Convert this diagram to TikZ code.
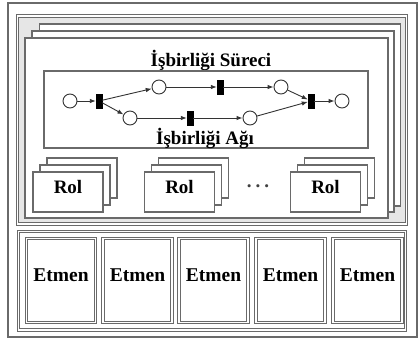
\documentclass[tikz,border=0pt]{standalone}
\usepackage{fontspec}
\setmainfont{Liberation Serif}
\usetikzlibrary{arrows.meta}
\definecolor{lc}{HTML}{6A6A6A}
\definecolor{bgc}{HTML}{E6E6E6}
\definecolor{pc}{HTML}{333333}
\tikzset{
  frame/.style={draw=lc, line width=1.1pt, fill=white, inner sep=0pt, outer sep=0pt},
  dframe/.style={draw=lc, line width=1pt, double=white, double distance=1.6pt, inner sep=0pt, outer sep=0pt},
  page/.style={draw=lc, line width=1.1pt, fill=white, inner sep=0pt, outer sep=0pt},
  place/.style={circle, draw=pc, line width=0.9pt, fill=white, minimum size=14pt, inner sep=0pt},
  trans/.style={rectangle, fill=black, draw=black, minimum width=6pt, minimum height=14pt, inner sep=0pt},
  arc/.style={draw=pc, line width=0.9pt, -{Latex[length=6pt,width=4.5pt]}},
  lbl/.style={font=\bfseries\fontsize{19}{19}\selectfont, inner sep=0pt, text=black},
  etm/.style={font=\bfseries\fontsize{19.5}{19.5}\selectfont, inner sep=0pt, text=black}
}
\begin{document}
\begin{tikzpicture}[x=1pt,y=-1pt]
\useasboundingbox (0,0) rectangle (418,343);
% outer frame
\draw[lc, line width=1.1pt] (8,3) rectangle (417,337);
\coordinate (outer) at (212.5,170);
% upper container
\path[fill=bgc] (17.5,16) rectangle (406.5,224);
\draw[dframe] (17.5,16) rectangle (406.5,224);
% stacked pages
\node[page, minimum width=361.5pt, minimum height=182pt] (pg3) at (220,115) {};
\node[page, minimum width=362pt, minimum height=181pt] (pg2) at (213,121.5) {};
\node[page, minimum width=363pt, minimum height=180pt] (pg1) at (206.5,128) {};
\node[lbl] (title) at (211,60) {İşbirliği Süreci};
% petri net box
\node[frame, minimum width=324pt, minimum height=77pt] (pnbox) at (206,109.5) {};
% places and transitions
\node[place] (p1) at (70,101) {};
\node[trans] (t1) at (99,101) {};
\node[place] (p2) at (159,87) {};
\node[trans] (t2) at (220,87) {};
\node[place] (p3) at (281,87) {};
\node[place] (p4) at (130,118) {};
\node[trans] (t3) at (190,118) {};
\node[place] (p5) at (250,118) {};
\node[trans] (t4) at (311,101) {};
\node[place] (p6) at (342,101) {};
\draw[arc] (p1) -- (t1);
\draw[arc] (t1) -- (p2);
\draw[arc] (t1) -- (p4);
\draw[arc] (p2) -- (t2);
\draw[arc] (t2) -- (p3);
\draw[arc] (p4) -- (t3);
\draw[arc] (t3) -- (p5);
\draw[arc] (p3) -- (t4);
\draw[arc] (p5) -- (t4);
\draw[arc] (t4) -- (p6);
\node[lbl] (net) at (205,138) {İşbirliği Ağı};
% Rol stacks
\foreach \n/\cx in {a/68, b/179.5, c/325.5}{
  \node[page, minimum width=70pt, minimum height=40pt] (\n3) at (\cx+14,178) {};
  \node[page, minimum width=70pt, minimum height=40pt] (\n2) at (\cx+7,185) {};
  \node[page, minimum width=70pt, minimum height=40pt] (\n1) at (\cx,192) {};
  \node[lbl] (\n t) at (\cx,187) {Rol};
}
\node[font=\bfseries\fontsize{19}{19}\selectfont, text=black!75] (dots) at (258,186) {.\hspace{4pt}.\hspace{4pt}.};
% lower container
\draw[dframe] (18.5,231.5) rectangle (405.5,330);
\coordinate (lower) at (212,281);
\foreach \i/\cx in {1/61, 2/137.5, 3/213.5, 4/290.5, 5/367.5}{
  \node[dframe, minimum width=69pt, minimum height=84pt] (e\i) at (\cx,280.5) {};
  \node[etm] (et\i) at (\cx,275) {Etmen};
}
\end{tikzpicture}
\end{document}
